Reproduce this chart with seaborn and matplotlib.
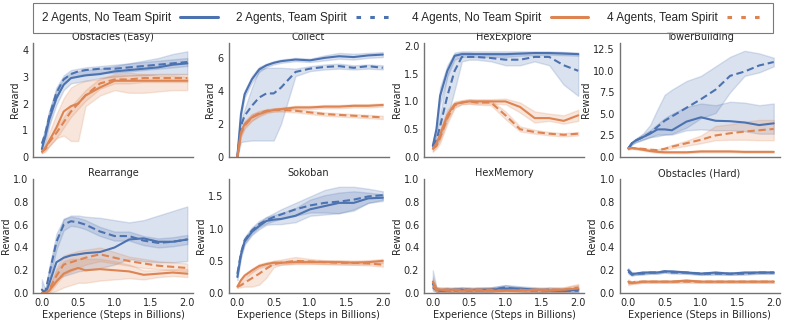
import pandas as pd
import seaborn as sns
import matplotlib.pyplot as plt
from matplotlib.lines import Line2D

# experience in billions of steps (shared by every panel)
steps = [0.0, 0.05, 0.1, 0.2, 0.3, 0.4, 0.5, 0.6, 0.8, 1.0, 1.2, 1.4, 1.6, 1.8, 2.0]

series_labels = {
    "2n": ("2 Agents", "No Team Spirit"),
    "2t": ("2 Agents", "Team Spirit"),
    "4n": ("4 Agents", "No Team Spirit"),
    "4t": ("4 Agents", "Team Spirit"),
}

# each series: (mean, lower band, upper band)
obstacles_easy = {
    "2n": ([0.3, 0.8, 1.4, 2.2, 2.7, 2.95, 3.0, 3.05, 3.1, 3.2, 3.25, 3.3, 3.35, 3.45, 3.5],
           [0.15, 0.55, 1.15, 1.95, 2.5, 2.75, 2.8, 2.85, 2.95, 3.0, 3.05, 3.05, 3.1, 3.1, 3.1],
           [0.5, 1.1, 1.7, 2.5, 2.95, 3.15, 3.2, 3.25, 3.3, 3.4, 3.5, 3.6, 3.7, 3.85, 3.95]),
    "2t": ([0.5, 0.9, 1.5, 2.4, 2.9, 3.1, 3.2, 3.25, 3.3, 3.3, 3.35, 3.4, 3.45, 3.5, 3.55],
           [0.35, 0.75, 1.3, 2.2, 2.75, 2.95, 3.05, 3.1, 3.15, 3.15, 3.2, 3.25, 3.3, 3.35, 3.4],
           [0.6, 1.1, 1.7, 2.6, 3.05, 3.25, 3.3, 3.35, 3.4, 3.45, 3.5, 3.55, 3.6, 3.65, 3.7]),
    "4n": ([0.2, 0.35, 0.6, 1.1, 1.7, 1.9, 2.0, 2.3, 2.6, 2.85, 2.85, 2.85, 2.85, 2.85, 2.85],
           [0.15, 0.25, 0.4, 0.7, 0.8, 0.6, 0.6, 1.9, 2.3, 2.5, 2.4, 2.4, 2.45, 2.5, 2.5],
           [0.25, 0.5, 0.9, 1.6, 2.2, 2.6, 2.75, 2.85, 2.9, 3.1, 3.15, 3.1, 3.05, 3.05, 3.0]),
    "4t": ([0.2, 0.3, 0.55, 0.9, 1.3, 1.7, 2.0, 2.3, 2.75, 2.9, 2.9, 2.95, 2.95, 2.95, 2.95],
           [0.15, 0.2, 0.4, 0.7, 1.1, 1.5, 1.8, 2.1, 2.55, 2.75, 2.75, 2.8, 2.8, 2.8, 2.8],
           [0.25, 0.4, 0.7, 1.1, 1.5, 1.9, 2.2, 2.5, 2.95, 3.05, 3.05, 3.1, 3.1, 3.1, 3.1]),
}

collect = {
    "2n": ([0.0, 2.6, 3.8, 4.7, 5.3, 5.55, 5.7, 5.8, 5.9, 5.85, 6.0, 6.1, 6.05, 6.15, 6.2],
           [0.0, 2.4, 3.6, 4.5, 5.15, 5.45, 5.6, 5.7, 5.8, 5.75, 5.85, 5.95, 5.9, 6.0, 6.05],
           [0.0, 2.8, 4.0, 4.9, 5.45, 5.65, 5.8, 5.9, 6.0, 5.95, 6.15, 6.3, 6.25, 6.3, 6.35]),
    "2t": ([0.0, 1.9, 2.5, 3.1, 3.6, 3.85, 3.85, 4.2, 5.15, 5.35, 5.45, 5.5, 5.4, 5.5, 5.4],
           [0.0, 0.9, 0.95, 1.0, 1.0, 1.0, 1.0, 2.0, 4.9, 5.2, 5.3, 5.35, 5.3, 5.35, 5.3],
           [0.0, 2.2, 2.9, 4.2, 5.3, 5.4, 5.4, 5.4, 5.35, 5.5, 5.6, 5.65, 5.55, 5.6, 5.55]),
    "4n": ([0.0, 1.5, 2.0, 2.4, 2.6, 2.75, 2.85, 2.9, 3.0, 3.0, 3.05, 3.05, 3.1, 3.1, 3.15],
           [0.0, 1.3, 1.8, 2.2, 2.45, 2.65, 2.75, 2.8, 2.9, 2.9, 2.95, 2.95, 3.0, 3.0, 3.05],
           [0.0, 1.7, 2.2, 2.6, 2.75, 2.85, 2.95, 3.0, 3.1, 3.1, 3.15, 3.15, 3.2, 3.2, 3.25]),
    "4t": ([0.0, 1.4, 1.9, 2.4, 2.65, 2.8, 2.85, 2.85, 2.8, 2.7, 2.6, 2.55, 2.5, 2.45, 2.4],
           [0.0, 1.2, 1.7, 2.2, 2.5, 2.7, 2.75, 2.75, 2.7, 2.6, 2.5, 2.45, 2.4, 2.35, 2.3],
           [0.0, 1.6, 2.1, 2.6, 2.8, 2.9, 2.95, 2.95, 2.9, 2.8, 2.7, 2.65, 2.6, 2.55, 2.5]),
}

hex_explore = {
    "2n": ([0.2, 0.5, 1.1, 1.55, 1.82, 1.85, 1.85, 1.85, 1.85, 1.85, 1.86, 1.87, 1.87, 1.86, 1.85],
           [0.15, 0.4, 0.95, 1.45, 1.75, 1.8, 1.8, 1.8, 1.8, 1.8, 1.82, 1.83, 1.84, 1.83, 1.82],
           [0.25, 0.6, 1.25, 1.65, 1.88, 1.9, 1.9, 1.9, 1.9, 1.9, 1.9, 1.9, 1.9, 1.89, 1.88]),
    "2t": ([0.2, 0.3, 0.55, 1.1, 1.55, 1.8, 1.8, 1.8, 1.78, 1.75, 1.75, 1.8, 1.8, 1.65, 1.55],
           [0.15, 0.2, 0.35, 0.7, 1.2, 1.72, 1.75, 1.75, 1.72, 1.65, 1.65, 1.72, 1.65, 1.3, 1.1],
           [0.25, 0.4, 0.75, 1.5, 1.85, 1.88, 1.88, 1.86, 1.84, 1.84, 1.86, 1.88, 1.88, 1.88, 1.86]),
    "4n": ([0.15, 0.25, 0.4, 0.75, 0.95, 0.98, 1.0, 1.0, 1.0, 1.0, 0.9, 0.7, 0.7, 0.65, 0.75],
           [0.1, 0.2, 0.3, 0.65, 0.9, 0.95, 0.96, 0.96, 0.96, 0.95, 0.8, 0.62, 0.65, 0.6, 0.65],
           [0.2, 0.3, 0.5, 0.85, 1.0, 1.02, 1.04, 1.04, 1.04, 1.05, 0.98, 0.82, 0.78, 0.75, 0.85]),
    "4t": ([0.15, 0.2, 0.35, 0.7, 0.93, 0.98, 1.0, 0.98, 0.98, 0.75, 0.5, 0.45, 0.42, 0.4, 0.42],
           [0.1, 0.15, 0.25, 0.6, 0.88, 0.95, 0.96, 0.94, 0.93, 0.68, 0.46, 0.42, 0.39, 0.37, 0.39],
           [0.2, 0.25, 0.45, 0.8, 0.98, 1.02, 1.04, 1.02, 1.02, 0.82, 0.55, 0.49, 0.45, 0.43, 0.45]),
}

tower_building = {
    "2n": ([1.0, 1.6, 1.9, 2.3, 2.7, 3.2, 3.2, 3.1, 4.1, 4.6, 4.2, 4.15, 4.0, 3.7, 3.9],
           [0.9, 1.45, 1.7, 2.0, 2.3, 2.6, 2.6, 2.6, 3.1, 3.2, 3.1, 3.1, 3.0, 2.7, 2.7],
           [1.1, 1.75, 2.1, 2.6, 3.1, 3.8, 4.5, 5.0, 5.8, 6.2, 6.0, 6.4, 6.3, 6.0, 6.2]),
    "2t": ([1.0, 1.6, 1.9, 2.3, 2.8, 3.5, 4.2, 4.7, 5.7, 6.7, 7.8, 9.4, 9.9, 10.6, 11.0],
           [0.9, 1.45, 1.7, 2.0, 2.3, 2.4, 2.6, 2.7, 3.4, 4.5, 5.1, 7.5, 9.4, 9.8, 10.5],
           [1.1, 1.75, 2.1, 2.7, 3.7, 5.5, 7.2, 7.8, 8.8, 9.4, 10.5, 11.6, 12.3, 12.0, 11.5]),
    "4n": ([1.0, 1.05, 1.0, 0.85, 0.7, 0.6, 0.55, 0.55, 0.55, 0.65, 0.65, 0.65, 0.6, 0.6, 0.6],
           [0.9, 0.95, 0.9, 0.75, 0.6, 0.5, 0.45, 0.45, 0.45, 0.55, 0.55, 0.55, 0.5, 0.5, 0.5],
           [1.1, 1.15, 1.1, 0.95, 0.8, 0.7, 0.65, 0.65, 0.65, 0.75, 0.75, 0.75, 0.7, 0.7, 0.7]),
    "4t": ([1.0, 1.05, 1.0, 0.95, 0.85, 0.8, 0.95, 1.2, 1.6, 2.0, 2.5, 2.75, 2.95, 3.1, 3.25],
           [0.9, 0.95, 0.9, 0.85, 0.75, 0.7, 0.8, 1.0, 1.3, 1.6, 1.95, 2.0, 2.0, 1.95, 1.95],
           [1.1, 1.15, 1.1, 1.05, 0.95, 0.9, 1.1, 1.4, 1.9, 2.5, 3.6, 3.8, 4.1, 4.3, 4.3]),
}

rearrange = {
    "2n": ([0.03, 0.0, 0.08, 0.27, 0.31, 0.33, 0.34, 0.35, 0.36, 0.4, 0.47, 0.48, 0.45, 0.45, 0.47],
           [0.0, 0.0, 0.02, 0.12, 0.15, 0.17, 0.19, 0.2, 0.22, 0.25, 0.3, 0.28, 0.27, 0.27, 0.28],
           [0.12, 0.02, 0.2, 0.45, 0.65, 0.68, 0.68, 0.67, 0.66, 0.64, 0.62, 0.64, 0.68, 0.72, 0.76]),
    "2t": ([0.0, 0.02, 0.16, 0.45, 0.6, 0.63, 0.62, 0.6, 0.54, 0.5, 0.5, 0.46, 0.44, 0.45, 0.47],
           [0.0, 0.0, 0.1, 0.38, 0.55, 0.59, 0.58, 0.56, 0.5, 0.46, 0.46, 0.42, 0.4, 0.41, 0.43],
           [0.0, 0.04, 0.22, 0.52, 0.65, 0.67, 0.66, 0.64, 0.58, 0.54, 0.54, 0.5, 0.48, 0.49, 0.51]),
    "4n": ([0.0, 0.0, 0.02, 0.1, 0.17, 0.2, 0.22, 0.2, 0.21, 0.2, 0.19, 0.16, 0.17, 0.18, 0.17],
           [0.0, 0.0, 0.0, 0.02, 0.05, 0.07, 0.09, 0.09, 0.11, 0.12, 0.13, 0.12, 0.14, 0.15, 0.14],
           [0.02, 0.02, 0.05, 0.2, 0.28, 0.3, 0.3, 0.3, 0.3, 0.28, 0.25, 0.2, 0.2, 0.21, 0.21]),
    "4t": ([0.0, 0.0, 0.03, 0.15, 0.25, 0.27, 0.29, 0.31, 0.34, 0.31, 0.28, 0.26, 0.24, 0.23, 0.22],
           [0.0, 0.0, 0.0, 0.08, 0.16, 0.19, 0.22, 0.25, 0.28, 0.26, 0.24, 0.22, 0.21, 0.2, 0.19],
           [0.02, 0.02, 0.06, 0.22, 0.33, 0.35, 0.37, 0.38, 0.4, 0.36, 0.32, 0.3, 0.28, 0.27, 0.26]),
}

sokoban = {
    "2n": ([0.25, 0.6, 0.8, 0.95, 1.04, 1.12, 1.14, 1.15, 1.2, 1.3, 1.35, 1.4, 1.4, 1.47, 1.48],
           [0.2, 0.55, 0.75, 0.9, 0.99, 1.06, 1.07, 1.07, 1.1, 1.2, 1.22, 1.24, 1.28, 1.4, 1.43],
           [0.3, 0.65, 0.85, 1.0, 1.09, 1.18, 1.21, 1.24, 1.32, 1.45, 1.52, 1.56, 1.58, 1.56, 1.53]),
    "2t": ([0.3, 0.62, 0.82, 0.97, 1.07, 1.13, 1.18, 1.22, 1.3, 1.36, 1.4, 1.42, 1.45, 1.5, 1.52],
           [0.25, 0.57, 0.77, 0.92, 1.02, 1.08, 1.12, 1.15, 1.2, 1.25, 1.25, 1.24, 1.3, 1.4, 1.45],
           [0.35, 0.67, 0.87, 1.02, 1.12, 1.18, 1.24, 1.3, 1.4, 1.5, 1.6, 1.65, 1.65, 1.62, 1.58]),
    "4n": ([0.1, 0.2, 0.27, 0.35, 0.42, 0.45, 0.47, 0.47, 0.48, 0.48, 0.48, 0.48, 0.47, 0.48, 0.5],
           [0.08, 0.17, 0.24, 0.32, 0.39, 0.42, 0.44, 0.44, 0.45, 0.45, 0.45, 0.45, 0.44, 0.45, 0.47],
           [0.12, 0.23, 0.3, 0.38, 0.45, 0.48, 0.5, 0.5, 0.51, 0.51, 0.51, 0.51, 0.5, 0.51, 0.53]),
    "4t": ([0.1, 0.12, 0.16, 0.23, 0.3, 0.38, 0.45, 0.47, 0.5, 0.49, 0.48, 0.47, 0.47, 0.46, 0.44],
           [0.08, 0.09, 0.1, 0.1, 0.13, 0.24, 0.4, 0.44, 0.46, 0.46, 0.45, 0.44, 0.44, 0.43, 0.41],
           [0.12, 0.15, 0.21, 0.33, 0.41, 0.46, 0.5, 0.52, 0.56, 0.53, 0.51, 0.5, 0.5, 0.5, 0.48]),
}

hex_memory = {
    "2n": ([0.08, 0.03, 0.02, 0.02, 0.03, 0.03, 0.02, 0.03, 0.03, 0.04, 0.04, 0.03, 0.02, 0.02, 0.03],
           [0.04, 0.01, 0.0, 0.0, 0.01, 0.01, 0.0, 0.01, 0.01, 0.02, 0.02, 0.01, 0.0, 0.0, 0.01],
           [0.2, 0.05, 0.04, 0.04, 0.05, 0.05, 0.04, 0.05, 0.05, 0.07, 0.06, 0.05, 0.04, 0.04, 0.05]),
    "2t": ([0.05, 0.03, 0.02, 0.03, 0.02, 0.03, 0.03, 0.02, 0.03, 0.05, 0.03, 0.02, 0.03, 0.02, 0.02],
           [0.02, 0.01, 0.0, 0.01, 0.0, 0.01, 0.01, 0.0, 0.01, 0.03, 0.01, 0.0, 0.01, 0.0, 0.0],
           [0.12, 0.05, 0.04, 0.05, 0.04, 0.05, 0.05, 0.04, 0.05, 0.07, 0.05, 0.04, 0.05, 0.04, 0.04]),
    "4n": ([0.1, 0.03, 0.03, 0.02, 0.03, 0.02, 0.03, 0.02, 0.02, 0.02, 0.02, 0.03, 0.02, 0.03, 0.04],
           [0.05, 0.01, 0.01, 0.0, 0.01, 0.0, 0.01, 0.0, 0.0, 0.0, 0.0, 0.01, 0.0, 0.01, 0.02],
           [0.14, 0.05, 0.05, 0.04, 0.05, 0.04, 0.05, 0.04, 0.04, 0.04, 0.04, 0.05, 0.04, 0.05, 0.07]),
    "4t": ([0.06, 0.03, 0.03, 0.03, 0.02, 0.03, 0.02, 0.03, 0.03, 0.02, 0.03, 0.02, 0.03, 0.03, 0.05],
           [0.03, 0.01, 0.01, 0.01, 0.0, 0.01, 0.0, 0.01, 0.01, 0.0, 0.01, 0.0, 0.01, 0.01, 0.03],
           [0.1, 0.05, 0.05, 0.05, 0.04, 0.05, 0.04, 0.05, 0.05, 0.04, 0.05, 0.04, 0.05, 0.05, 0.08]),
}

obstacles_hard = {
    "2n": ([0.2, 0.17, 0.17, 0.18, 0.18, 0.18, 0.19, 0.19, 0.18, 0.17, 0.18, 0.17, 0.18, 0.18, 0.18],
           [0.18, 0.16, 0.16, 0.17, 0.17, 0.17, 0.18, 0.18, 0.17, 0.16, 0.17, 0.16, 0.17, 0.17, 0.17],
           [0.22, 0.18, 0.18, 0.19, 0.19, 0.19, 0.2, 0.2, 0.19, 0.18, 0.19, 0.18, 0.19, 0.19, 0.19]),
    "2t": ([0.19, 0.16, 0.17, 0.17, 0.18, 0.18, 0.19, 0.18, 0.18, 0.17, 0.17, 0.17, 0.17, 0.18, 0.18],
           [0.17, 0.15, 0.16, 0.16, 0.17, 0.17, 0.18, 0.17, 0.17, 0.16, 0.16, 0.16, 0.16, 0.17, 0.17],
           [0.21, 0.17, 0.18, 0.18, 0.19, 0.19, 0.2, 0.19, 0.19, 0.18, 0.18, 0.18, 0.18, 0.19, 0.19]),
    "4n": ([0.1, 0.09, 0.09, 0.1, 0.1, 0.1, 0.1, 0.1, 0.11, 0.1, 0.1, 0.1, 0.1, 0.1, 0.1],
           [0.08, 0.08, 0.08, 0.09, 0.09, 0.09, 0.09, 0.09, 0.1, 0.09, 0.09, 0.09, 0.09, 0.09, 0.09],
           [0.12, 0.1, 0.1, 0.11, 0.11, 0.11, 0.11, 0.11, 0.12, 0.11, 0.11, 0.11, 0.11, 0.11, 0.11]),
    "4t": ([0.09, 0.09, 0.1, 0.1, 0.1, 0.1, 0.1, 0.1, 0.1, 0.1, 0.1, 0.1, 0.1, 0.1, 0.1],
           [0.07, 0.08, 0.09, 0.09, 0.09, 0.09, 0.09, 0.09, 0.09, 0.09, 0.09, 0.09, 0.09, 0.09, 0.09],
           [0.11, 0.1, 0.11, 0.11, 0.11, 0.11, 0.11, 0.11, 0.11, 0.11, 0.11, 0.11, 0.11, 0.11, 0.11]),
}

panels = [
    ("Obstacles (Easy)", obstacles_easy, (0, 4.26), [0, 1, 2, 3, 4]),
    ("Collect", collect, (0, 6.9), [0, 2, 4, 6]),
    ("HexExplore", hex_explore, (0, 2.05), [0.0, 0.5, 1.0, 1.5, 2.0]),
    ("TowerBuilding", tower_building, (0, 13.2), [0.0, 2.5, 5.0, 7.5, 10.0, 12.5]),
    ("Rearrange", rearrange, (0, 1.0), [0.0, 0.2, 0.4, 0.6, 0.8, 1.0]),
    ("Sokoban", sokoban, (0, 1.77), [0.0, 0.5, 1.0, 1.5]),
    ("HexMemory", hex_memory, (0, 1.0), [0.0, 0.2, 0.4, 0.6, 0.8, 1.0]),
    ("Obstacles (Hard)", obstacles_hard, (0, 1.0), [0.0, 0.2, 0.4, 0.6, 0.8, 1.0]),
]


def to_long(panel):
    # three rows per step (lower, mean, upper) -> median line + min/max band
    rows = []
    for key, (mean, lo, hi) in panel.items():
        agents, spirit = series_labels[key]
        for i, x in enumerate(steps):
            for v in (lo[i], mean[i], hi[i]):
                rows.append({"x": x, "Reward": v, "agents": agents, "spirit": spirit})
    return pd.DataFrame(rows)


sns.set_theme(style="white")
plt.rcParams["axes.edgecolor"] = "0.45"
plt.rcParams["axes.linewidth"] = 1.0
plt.rcParams["text.color"] = "0.15"

palette = {"2 Agents": "#4C72B0", "4 Agents": "#DD8452"}
dashes = {"No Team Spirit": "", "Team Spirit": (3.5, 1.8)}

fig, axes = plt.subplots(2, 4, figsize=(7.89, 3.21), dpi=100, sharex=True)
fig.subplots_adjust(left=0.042, right=0.988, top=0.866, bottom=0.087,
                    wspace=0.222, hspace=0.193)

for ax, (title, panel, ylim, yticks) in zip(axes.flat, panels):
    df = to_long(panel)
    sns.lineplot(data=df, x="x", y="Reward", hue="agents", style="spirit",
                 hue_order=["2 Agents", "4 Agents"],
                 style_order=["No Team Spirit", "Team Spirit"],
                 palette=palette, dashes=dashes, estimator="median",
                 errorbar=("pi", 100), linewidth=1.5, legend=False, ax=ax)
    ax.set_title(title, fontsize=7, pad=2)
    ax.set_ylim(*ylim)
    ax.set_yticks(yticks)
    ax.set_xlim(-0.12, 2.08)
    ax.set_xticks([0.0, 0.5, 1.0, 1.5, 2.0])
    ax.tick_params(labelsize=7, length=0, pad=3.5)
    ax.set_ylabel("Reward", fontsize=7, labelpad=1.5)
    ax.set_xlabel("")
    sns.despine(ax=ax)

for ax in axes[1]:
    ax.set_xlabel("Experience (Steps in Billions)", fontsize=7, labelpad=1.5)

handles = [
    Line2D([], [], color="#4C72B0", lw=2.2),
    Line2D([], [], color="#4C72B0", lw=2.2, ls=(0, (1.5, 3))),
    Line2D([], [], color="#DD8452", lw=2.2),
    Line2D([], [], color="#DD8452", lw=2.2, ls=(0, (1.5, 3))),
]
labels = ["2 Agents, No Team Spirit", "2 Agents, Team Spirit",
          "4 Agents, No Team Spirit", "4 Agents, Team Spirit"]
leg = fig.legend(handles, labels, loc="lower left", ncol=4, mode="expand",
                 bbox_to_anchor=(0.042, 0.897, 0.938, 0.097), markerfirst=False,
                 frameon=True, fancybox=False, handlelength=3.2, handletextpad=0.75,
                 borderpad=0.75,
                 prop={"family": ["Liberation Sans Narrow", "Liberation Sans", "DejaVu Sans"],
                       "size": 8.5},
                 borderaxespad=0)
leg.get_frame().set_edgecolor("0.35")
leg.get_frame().set_linewidth(0.8)

fig.savefig("out.png", dpi=100)
